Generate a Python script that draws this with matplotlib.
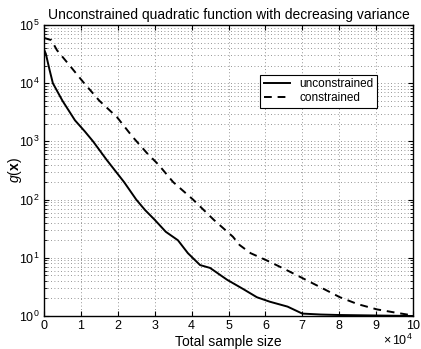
import matplotlib
matplotlib.use("Agg")
import matplotlib.pyplot as plt
from matplotlib.ticker import LogLocator, NullFormatter

plt.rcParams["font.family"] = ["Liberation Sans", "DejaVu Sans"]
plt.rcParams["mathtext.fontset"] = "custom"
plt.rcParams["mathtext.rm"] = "Liberation Sans"
plt.rcParams["mathtext.it"] = "Liberation Sans:italic"
plt.rcParams["mathtext.bf"] = "Liberation Sans:bold"

# sample size (x 1e4) and g(x) values
unc_x = [0.0, 0.05, 0.15, 0.24, 0.5, 0.84, 1.1, 1.33, 1.7, 2.17, 2.5, 2.74, 3.0, 3.3, 3.63,
         3.9, 4.23, 4.5, 4.96, 5.4, 5.77, 6.12, 6.6, 7.0, 7.5, 8.0, 9.0, 10.0]
unc_y = [38000, 32000, 17000, 10000, 5000, 2300, 1500, 1000, 480, 200, 100, 66, 45, 28, 20,
         12, 7.5, 6.7, 4.2, 2.9, 2.1, 1.76, 1.45, 1.1, 1.06, 1.04, 1.02, 1.0]

con_x = [0.0, 0.2, 0.35, 0.7, 1.06, 1.5, 1.98, 2.4, 2.79, 3.1, 3.5, 4.04, 4.6, 5.12,
         5.3, 5.6, 6.04, 6.5, 6.94, 7.5, 8.02, 8.5, 9.02, 9.5, 9.84, 10.0]
con_y = [60000, 55000, 37000, 20000, 10500, 5000, 2600, 1200, 630, 400, 200, 100, 45, 23,
         16.6, 12, 9, 6.5, 4.7, 3.1, 2.1, 1.6, 1.3, 1.15, 1.06, 1.03]

fig = plt.figure(figsize=(4.21, 3.49), dpi=100)
ax = fig.add_axes([44 / 421, 33 / 349, 369 / 421, 291 / 349])

ax.semilogy(unc_x, unc_y, "k-", lw=1.4, label="unconstrained")
ax.semilogy(con_x, con_y, "k--", lw=1.4, dashes=(4, 3), label="constrained")

ax.set_xlim(0, 10)
ax.set_ylim(1, 1e5)
ax.set_xticks(range(11))
ax.yaxis.set_major_locator(LogLocator(base=10, numticks=10))
ax.yaxis.set_minor_locator(LogLocator(base=10, subs=range(2, 10), numticks=50))
ax.yaxis.set_minor_formatter(NullFormatter())

grid_kw = dict(ls=(0, (1, 3)), color="0.45", lw=0.6)
ax.grid(True, which="major", **grid_kw)
ax.grid(True, which="minor", axis="y", **grid_kw)
ax.tick_params(direction="in", which="both", top=True, right=True, labelsize=9, pad=3)
ax.tick_params(which="minor", length=2)
for s in ax.spines.values():
    s.set_linewidth(1.0)

ax.set_title("Unconstrained quadratic function with decreasing variance", fontsize=10, pad=4)
ax.set_xlabel("Total sample size", fontsize=10)
ax.xaxis.set_label_coords(0.5, -0.065)
ax.set_ylabel(r"$g(\mathbf{x})$", fontsize=10)
ax.yaxis.set_label_coords(-0.055, 0.5)
fig.text(413 / 421, 1 - 340 / 349, r"$\times\,10^{4}$", fontsize=9, ha="right", va="center")

leg = ax.legend(loc="upper left", bbox_to_anchor=(0.57, 0.85), fontsize=8.5,
                frameon=True, fancybox=False, framealpha=1, edgecolor="k",
                handlelength=2.2, borderpad=0.3, labelspacing=0.2)
leg.get_frame().set_linewidth(0.8)

plt.savefig("out.png", dpi=100)
